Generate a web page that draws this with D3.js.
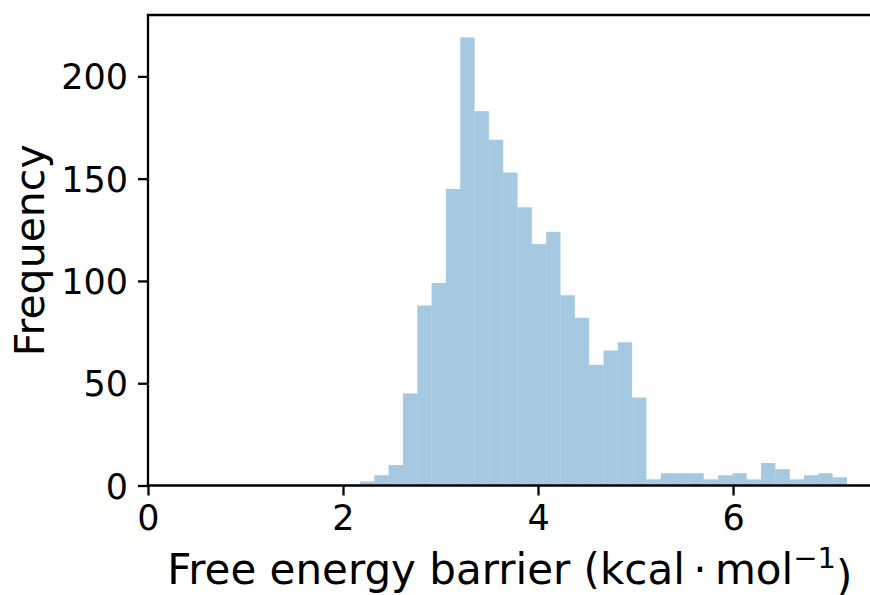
<!DOCTYPE html>
<html>
<head>
<meta charset="utf-8">
<script src="https://cdn.jsdelivr.net/npm/d3@7"></script>
<style>
  body { margin: 0; background: #fff; }
  text { font-family: "DejaVu Sans", sans-serif; fill: #000; }
</style>
</head>
<body>
<script>
// histogram counts, one per bin
var counts = [2, 5, 10, 45, 88, 99, 145, 219, 183, 169, 153, 136, 118, 124, 93, 82, 59, 66, 70, 43,
              3, 6, 6, 6, 3, 5, 6, 3, 11, 8, 3, 5, 6, 4];
var binStart = 2.174;   // left edge of first bin (kcal/mol)
var binWidth = 0.1469;
var xTicks = [0, 2, 4, 6];
var yTicks = [0, 50, 100, 150, 200];
var xDomain = [0, 7.42];
var yDomain = [0, 230];

render_hist(870, 595);

function render_hist(width, height) {
  var pLeft = 148, pRight = 871.5, pTop = 15, pBottom = 485.5;

  var svg = d3.select("body").append("svg")
    .attr("width", width)
    .attr("height", height);

  var x = d3.scaleLinear().domain(xDomain).range([pLeft, pRight]);
  var y = d3.scaleLinear().domain(yDomain).range([pBottom, pTop]);

  var bins = counts.map(function(c, i) {
    return { x0: binStart + i * binWidth, x1: binStart + (i + 1) * binWidth, n: c };
  });

  svg.append("g").selectAll("rect")
    .data(bins)
    .enter()
    .append("rect")
    .attr("x", function(d) { return x(d.x0); })
    .attr("width", function(d) { return x(d.x1) - x(d.x0); })
    .attr("y", function(d) { return y(d.n); })
    .attr("height", function(d) { return y(0) - y(d.n); })
    .attr("fill", "#1f77b4")
    .attr("fill-opacity", 0.4);

  // axes
  var xAxis = d3.axisBottom(x).tickValues(xTicks).tickSize(10).tickPadding(10).tickFormat(d3.format("d"));
  var yAxis = d3.axisLeft(y).tickValues(yTicks).tickSize(10).tickPadding(10).tickFormat(d3.format("d"));

  var gx = svg.append("g").attr("transform", "translate(0," + pBottom + ")").call(xAxis);
  var gy = svg.append("g").attr("transform", "translate(" + pLeft + ",0)").call(yAxis);

  [gx, gy].forEach(function(g) {
    g.select(".domain").remove();
    g.attr("font-family", null).attr("font-size", null);
    g.selectAll(".tick line").attr("stroke", "#000").attr("stroke-width", 2.3);
    g.selectAll(".tick text").style("font-size", "35px");
  });
  gx.selectAll(".tick text").attr("dy", "0.71em");
  gy.selectAll(".tick text").attr("dy", "0.36em");

  // spines
  var spine = svg.append("g").attr("stroke", "#000").attr("stroke-width", 2.3).attr("fill", "none");
  spine.append("line").attr("x1", pLeft).attr("x2", pLeft).attr("y1", pTop).attr("y2", pBottom);
  spine.append("line").attr("x1", pLeft - 1.15).attr("x2", pRight).attr("y1", pBottom).attr("y2", pBottom);
  spine.append("line").attr("x1", pLeft - 1.15).attr("x2", pRight).attr("y1", pTop).attr("y2", pTop);
  spine.append("line").attr("x1", pRight).attr("x2", pRight).attr("y1", pTop).attr("y2", pBottom);

  // axis labels
  svg.append("text")
    .attr("transform", "translate(44," + (pTop + pBottom) / 2 + ") rotate(-90)")
    .attr("text-anchor", "middle")
    .style("font-size", "41px")
    .text("Frequency");

  var xl = svg.append("text")
    .attr("x", (pLeft + pRight) / 2)
    .attr("y", 584)
    .attr("text-anchor", "middle")
    .style("font-size", "42px");
  xl.append("tspan").text("Free energy barrier (kcal\u2009\u00b7\u2009mol");
  xl.append("tspan").attr("dy", "-0.55em").style("font-size", "29px").text("\u22121");
  xl.append("tspan").attr("dy", "0.55em").text(")");
}
</script>
</body>
</html>
